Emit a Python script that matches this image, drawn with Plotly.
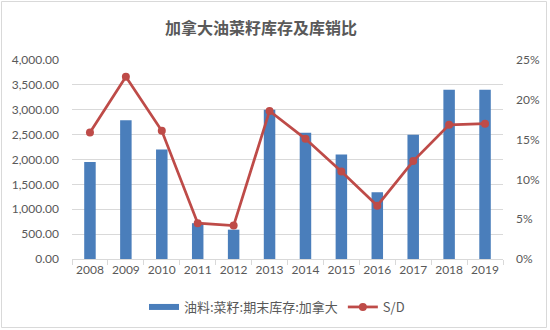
import plotly.graph_objects as go

# Canadian canola ending stocks and stocks-to-use ratio
years = ["2008", "2009", "2010", "2011", "2012", "2013",
         "2014", "2015", "2016", "2017", "2018", "2019"]
ending_stocks = [1950, 2790, 2200, 720, 590, 3000,
                 2540, 2100, 1340, 2500, 3400, 3400]
stocks_to_use = [15.9, 22.9, 16.1, 4.5, 4.2, 18.6,
                 15.1, 11.0, 6.7, 12.3, 16.85, 17.0]
left_ticks = [0, 500, 1000, 1500, 2000, 2500, 3000, 3500, 4000]
right_ticks = [0, 5, 10, 15, 20, 25]

W, H = 550, 330
ML, MR, MT, MB = 72, 47, 60, 71
pw = W - ML - MR
ph = H - MT - MB

grey = "#595959"
bar_blue = "#4a7ebb"
line_red = "#be4b48"
tick_font = dict(family="Lato, Noto Sans CJK SC", size=12, color=grey)

fig = go.Figure()
fig.add_trace(go.Bar(
    x=years, y=ending_stocks, name="油料:菜籽:期末库存:加拿大",
    marker=dict(color=bar_blue, line=dict(width=0)),
    width=0.32, yaxis="y", showlegend=False,
))
# legend entry drawn as a wide flat swatch for the bar series
fig.add_trace(go.Scatter(
    x=[None], y=[None], name="油料:菜籽:期末库存:加拿大",
    mode="lines", line=dict(color=bar_blue, width=6), yaxis="y",
))
fig.add_trace(go.Scatter(
    x=years, y=stocks_to_use, name="S/D", mode="lines+markers",
    line=dict(color=line_red, width=2.75),
    marker=dict(color=line_red, size=8),
    yaxis="y2",
))

fig.update_layout(
    width=W, height=H,
    margin=dict(l=ML, r=MR, t=MT, b=MB, autoexpand=False),
    paper_bgcolor="white", plot_bgcolor="white",
    title=dict(text="<b>加拿大油菜籽库存及库销比</b>",
               x=(261 - ML) / pw, xref="paper", xanchor="center",
               y=1 - 28 / H, yref="container", yanchor="middle",
               font=dict(family="Noto Sans CJK SC", size=16, color=grey)),
    xaxis=dict(type="category", showgrid=False, automargin=False,
               tickangle=0, range=[-0.5, len(years) - 0.5],
               showline=True, linecolor="#d9d9d9", linewidth=1,
               ticks="outside", tickson="boundaries", ticklen=5,
               tickcolor="#d9d9d9", tickfont=tick_font),
    yaxis=dict(range=[0, 4000], tickvals=left_ticks, automargin=False,
               tickformat=",.2f", showgrid=True, gridcolor="#d9d9d9",
               zeroline=False, showline=False, ticks="",
               ticklabelstandoff=12, tickfont=tick_font),
    yaxis2=dict(range=[0, 25], tickvals=right_ticks, automargin=False,
                ticktext=[f"{v}%" for v in right_ticks],
                overlaying="y", side="right", showgrid=False,
                zeroline=False, showline=False, ticks="",
                ticklabelstandoff=12, tickfont=tick_font),
    legend=dict(orientation="h", x=(277 - ML) / pw, xanchor="center",
                y=-(307 - (H - MB)) / ph, yanchor="middle",
                font=dict(family="Noto Sans CJK SC", size=13, color=grey),
                traceorder="normal"),
    showlegend=True,
)

# thin frame around the whole chart
fig.add_shape(type="rect", xref="paper", yref="paper",
              x0=(1.5 - ML) / pw, x1=(W - 3.5 - ML) / pw,
              y0=-(H - 2.5 - MT - ph) / ph, y1=1 + (MT - 1.5) / ph,
              line=dict(color="#d9d9d9", width=1), layer="below")

fig.write_html("out.html")
